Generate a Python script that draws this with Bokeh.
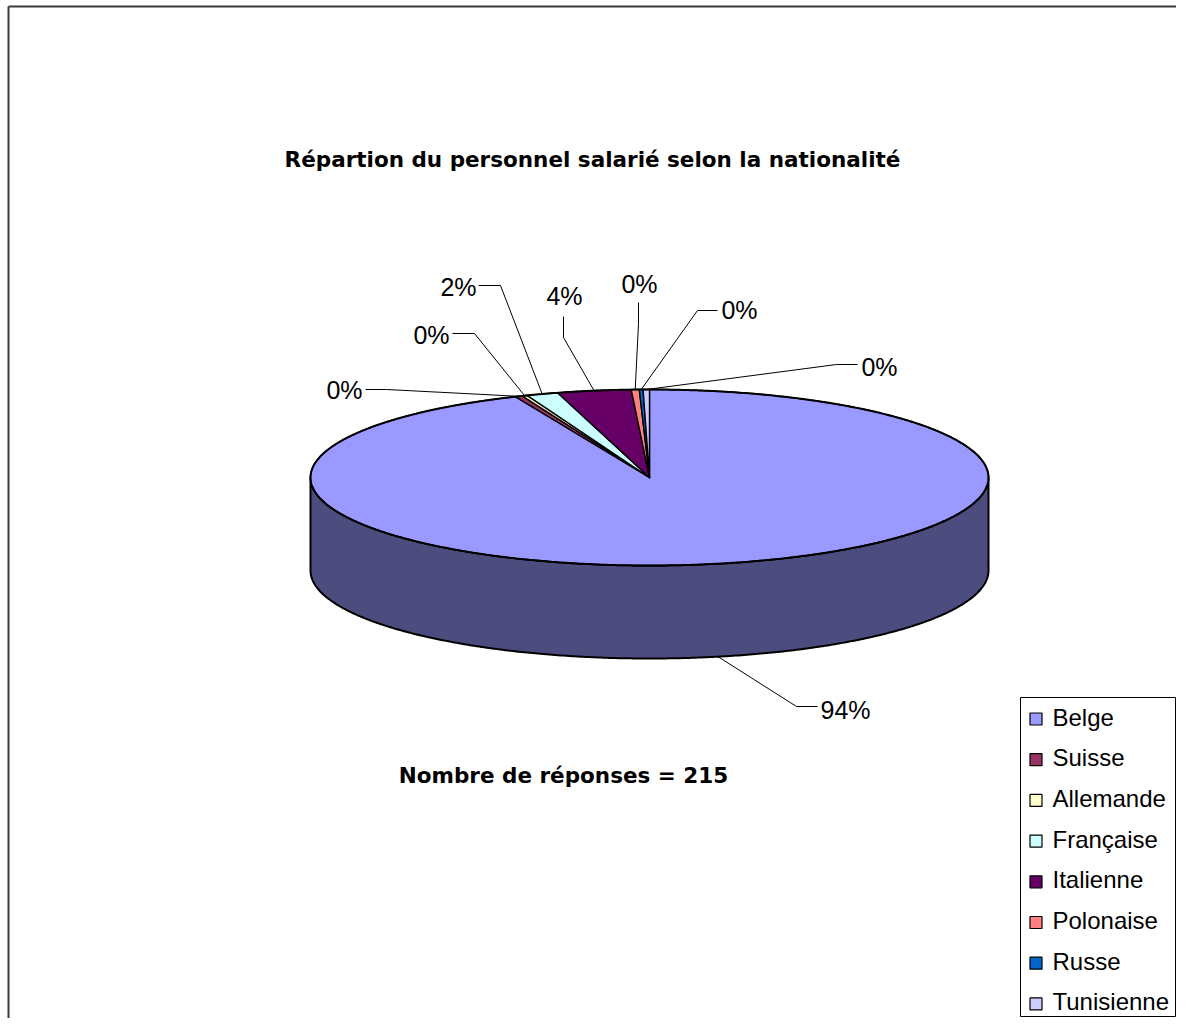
import numpy as np
from bokeh.plotting import figure
from bokeh.models import Range1d
from bokeh.embed import file_html
from bokeh.resources import INLINE
from bokeh.core.properties import value

# ---------------- data ----------------
categories = ["Belge", "Suisse", "Allemande", "Française", "Italienne",
              "Polonaise", "Russe", "Tunisienne"]
shares = [93.52, 0.35, 0.25, 1.51, 3.51, 0.38, 0.18, 0.30]
colors = ["#9999FF", "#993366", "#FFFFCC", "#CCFFFF", "#660066",
          "#FF8080", "#0066CC", "#CCCCFF"]
title_text = "Répartion du personnel salarié selon la nationalité"
n_responses = 215
subtitle_text = f"Nombre de réponses = {n_responses}"

# ---------------- layout (screen pixel coordinates) ----------------
W, H = 1176, 1018
CX, CY, RX, RY, DEPTH = 649, 477, 339, 88, 93
SIDE_COLOR = "#4C4C7F"
TDY = -9  # baseline correction for rendered text

# label text anchor (center x, baseline y) and two elbow points of leader
label_pos = [(845, 718), (344, 398), (431, 343), (458, 295),
             (564, 304), (639, 292), (739, 318), (879, 375)]
leader_elbows = [[(817, 706), (796, 706)],
                 [(365, 389), (386, 389)],
                 [(452, 333), (474, 333)],
                 [(478, 285), (500, 285)],
                 [(563, 316), (563, 337)],
                 [(638, 302), (638, 323)],
                 [(717, 310), (697, 310)],
                 [(857, 364), (836, 364)]]

p = figure(width=W, height=H, output_backend="svg", toolbar_location=None,
           x_range=Range1d(0, W), y_range=Range1d(H, 0),
           min_border=0, x_axis_location=None, y_axis_location=None)
p.grid.visible = False
p.outline_line_color = None
p.background_fill_color = "white"
p.border_fill_color = "white"

# chart frame (only left and top edges fall inside the window)
p.segment(x0=[8, 8], y0=[6, 6], x1=[8, W + 10], y1=[H + 10, 6],
          line_color="#3a3a3a", line_width=2)


def arc(a0, a1, dy=0.0, step=0.5):
    n = max(2, int(abs(a1 - a0) / step) + 2)
    t = np.radians(np.linspace(a0, a1, n))
    return list(CX + RX * np.sin(t)), list(CY - RY * np.cos(t) + dy)


total = float(sum(shares))
fracs = [s / total for s in shares]
pct_labels = [f"{round(f * 100):d}%" for f in fracs]
bounds = np.concatenate([[0.0], np.cumsum(fracs) * 360.0])

# side walls (front half: 90..270 degrees clockwise from top)
side_xs, side_ys, side_cols = [], [], []
for i in range(len(shares)):
    lo, hi = max(bounds[i], 90.0), min(bounds[i + 1], 270.0)
    if hi > lo:
        tx, ty = arc(lo, hi)
        bx, by = arc(hi, lo, DEPTH)
        side_xs.append(tx + bx)
        side_ys.append(ty + by)
        side_cols.append(SIDE_COLOR if i == 0 else colors[i])
p.patches(xs=side_xs, ys=side_ys, fill_color=side_cols, line_color="black",
          line_width=2, line_join="round")

# top wedges
top_xs, top_ys = [], []
for i in range(len(shares)):
    ax, ay = arc(bounds[i], bounds[i + 1])
    top_xs.append([CX] + ax)
    top_ys.append([CY] + ay)
p.patches(xs=top_xs, ys=top_ys, fill_color=colors, line_color="black",
          line_width=1.4, line_join="round")

ex, ey = arc(0, 360)
p.line(ex, ey, line_color="black", line_width=2)

# leader lines and percentage labels
lead_xs, lead_ys = [], []
for i in range(len(shares)):
    mid = 0.5 * (bounds[i] + bounds[i + 1])
    dy = DEPTH if 90 <= mid <= 270 else 0.0
    t = np.radians(mid)
    axp = CX + RX * np.sin(t)
    ayp = CY - RY * np.cos(t) + dy
    (e1x, e1y), (e2x, e2y) = leader_elbows[i]
    lead_xs.append([e1x, e2x, axp])
    lead_ys.append([e1y, e2y, ayp])
p.multi_line(xs=lead_xs, ys=lead_ys, line_color="black", line_width=1)

p.text(x=[q[0] for q in label_pos], y=[q[1] + TDY for q in label_pos],
       text=pct_labels, text_font=value("Liberation Sans"),
       text_font_size="25px", text_align="center",
       text_baseline="alphabetic", text_color="black")

# titles
p.text(x=[592], y=[168 + TDY], text=[title_text], text_font=value("DejaVu Sans"),
       text_font_style="bold", text_font_size="21.5px", text_align="center",
       text_baseline="alphabetic", text_color="black")
p.text(x=[563], y=[784 + TDY], text=[subtitle_text], text_font=value("DejaVu Sans"),
       text_font_style="bold", text_font_size="21.5px", text_align="center",
       text_baseline="alphabetic", text_color="black")

# legend
LX0, LX1, LY0, LY1 = 1020, 1175, 697, 1016
p.quad(left=[LX0], right=[LX1], top=[LY0], bottom=[LY1],
       fill_color="white", line_color="black", line_width=1)
ys_leg = [718.5 + 40.7 * i for i in range(len(categories))]
p.rect(x=[1035.5] * len(categories), y=ys_leg, width=12, height=12,
       fill_color=colors, line_color="black", line_width=1.2)
p.text(x=[1052] * len(categories), y=[y + 7 + TDY for y in ys_leg], text=categories,
       text_font=value("Liberation Sans"), text_font_size="24px",
       text_align="left", text_baseline="alphabetic", text_color="black")

open("out.html", "w").write(file_html(p, INLINE))
